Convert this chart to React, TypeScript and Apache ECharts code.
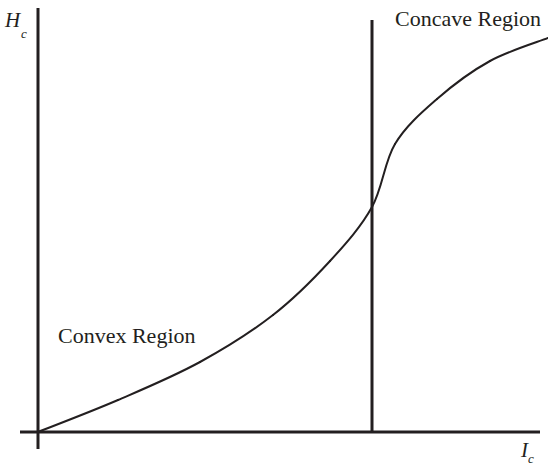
import React, { useEffect, useRef } from "react";
import * as echarts from "echarts";

// Curve H_c as a function of I_c (abstract units)
const curveX = [0, 1.6, 3.24, 4.7, 5.84, 6.68, 7.14, 7.98, 9.04, 10.2];
const curveY = [0, 0.8, 1.75, 2.925, 4.275, 5.625, 7.2, 8.325, 9.275, 9.85];

// Axis and divider extents
const xAxisLine = [[-0.36, 0], [10.04, 0]];
const yAxisLine = [[0, -0.425], [0, 10.6]];
const dividerX = 6.68;
const dividerTop = 10.3;

const labels = {
  concave: "Concave Region",
  convex: "Convex Region",
};

const INK = "#231f20";
const SERIF = "'Liberation Serif', 'Times New Roman', serif";

export default function App() {
  const ref = useRef<HTMLDivElement>(null);
  useEffect(() => {
    if (!ref.current) return;
    const chart = echarts.init(ref.current, undefined, { renderer: "svg" });
    const curve = curveX.map((x, i) => [x, curveY[i]]);
    chart.setOption({
      animation: false,
      backgroundColor: "#ffffff",
      grid: { left: 20, right: 0, top: 8, bottom: 18 },
      xAxis: {
        type: "value",
        min: -0.36,
        max: 10.2,
        axisLine: { show: false },
        axisTick: { show: false },
        axisLabel: { show: false },
        splitLine: { show: false },
      },
      yAxis: {
        type: "value",
        min: -0.425,
        max: 10.6,
        axisLine: { show: false },
        axisTick: { show: false },
        axisLabel: { show: false },
        splitLine: { show: false },
      },
      series: [
        {
          type: "line",
          data: xAxisLine,
          symbol: "none",
          lineStyle: { color: INK, width: 3 },
          silent: true,
        },
        {
          type: "line",
          data: yAxisLine,
          symbol: "none",
          lineStyle: { color: INK, width: 3 },
          silent: true,
        },
        {
          type: "line",
          data: [[dividerX, 0], [dividerX, dividerTop]],
          symbol: "none",
          lineStyle: { color: INK, width: 3 },
          silent: true,
        },
        {
          type: "custom",
          data: curve,
          encode: { x: 0, y: 1 },
          silent: true,
          renderItem: (params: any, api: any) => {
            if (params.dataIndex !== 0) return null;
            const pts = curve.map((p) => api.coord(p));
            const n = pts.length;
            const children: any[] = [];
            for (let i = 0; i < n - 1; i++) {
              const p0 = pts[Math.max(0, i - 1)];
              const p1 = pts[i];
              const p2 = pts[i + 1];
              const p3 = pts[Math.min(n - 1, i + 2)];
              children.push({
                type: "bezierCurve",
                shape: {
                  x1: p1[0],
                  y1: p1[1],
                  x2: p2[0],
                  y2: p2[1],
                  cpx1: p1[0] + (p2[0] - p0[0]) / 6,
                  cpy1: p1[1] + (p2[1] - p0[1]) / 6,
                  cpx2: p2[0] - (p3[0] - p1[0]) / 6,
                  cpy2: p2[1] - (p3[1] - p1[1]) / 6,
                },
                style: { stroke: INK, lineWidth: 2, fill: null, lineCap: "round" },
              });
            }
            return { type: "group", children };
          },
        },
      ],
      graphic: [
        {
          type: "text",
          left: 5,
          top: 9,
          style: { text: "H", font: `italic 21px ${SERIF}`, fill: INK },
        },
        {
          type: "text",
          left: 21,
          top: 27,
          style: { text: "c", font: `italic 13px ${SERIF}`, fill: INK },
        },
        {
          type: "text",
          left: 521,
          top: 439,
          style: { text: "I", font: `italic 21px ${SERIF}`, fill: INK },
        },
        {
          type: "text",
          left: 528,
          top: 452,
          style: { text: "c", font: `italic 13px ${SERIF}`, fill: INK },
        },
        {
          type: "text",
          left: 395,
          top: 7,
          style: { text: labels.concave, font: `22px ${SERIF}`, fill: INK },
        },
        {
          type: "text",
          left: 58,
          top: 324,
          style: { text: labels.convex, font: `22px ${SERIF}`, fill: INK },
        },
      ],
    });
    return () => chart.dispose();
  }, []);
  return <div ref={ref} style={{ width: 548, height: 467, position: "absolute", left: 0, top: 0 }} />;
}
